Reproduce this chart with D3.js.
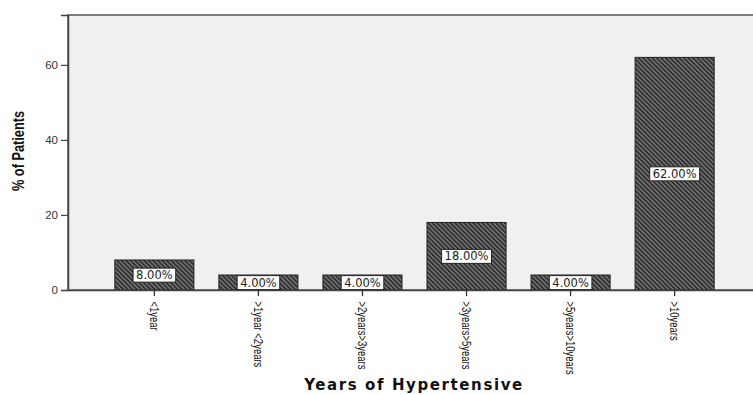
<!DOCTYPE html>
<html>
<head>
<meta charset="utf-8">
<script src="https://cdn.jsdelivr.net/npm/d3@7"></script>
<style>
  body { margin: 0; background: #fff; }
  svg { display: block; }
</style>
</head>
<body>
<svg id="chart" width="753" height="395"></svg>
<script>
// data
var categories = ['<1year', '>1year <2years', '>2years>3years', '>3years>5years', '>5years>10years', '>10years'];
var values = [8, 4, 4, 18, 4, 62];
var yTicks = [0, 20, 40, 60];

var svg = d3.select('#chart');
var plot = {l: 68, t: 15, r: 761, b: 290};

var xScale = d3.scaleBand()
    .domain(categories)
    .range([plot.l, plot.r])
    .paddingInner(0.24)
    .paddingOuter(0.45);
var yScale = d3.scaleLinear().domain([0, 73.3]).range([plot.b, plot.t]);

// hatch pattern for the bars
var defs = svg.append('defs');
var pat = defs.append('pattern')
    .attr('id', 'hatch')
    .attr('patternUnits', 'userSpaceOnUse')
    .attr('width', 3.2).attr('height', 3.2)
    .attr('patternTransform', 'rotate(45)');
pat.append('rect').attr('width', 3.2).attr('height', 3.2).attr('fill', '#2f2f2f');
pat.append('rect').attr('width', 3.2).attr('height', 1.3).attr('fill', '#7e7e7e');

// plot background
svg.append('rect')
    .attr('x', plot.l).attr('y', plot.t)
    .attr('width', plot.r - plot.l).attr('height', plot.b - plot.t)
    .attr('fill', '#f0f0f0')
    .attr('stroke', '#555').attr('stroke-width', 1.5);

// bars
svg.selectAll('.bar')
    .data(values).enter()
    .append('rect')
    .attr('class', 'bar')
    .attr('x', (d, i) => xScale(categories[i]))
    .attr('y', d => yScale(d))
    .attr('width', xScale.bandwidth())
    .attr('height', d => yScale(0) - yScale(d))
    .attr('fill', 'url(#hatch)')
    .attr('stroke', '#222').attr('stroke-width', 1);

// y axis
var yAxis = svg.append('g')
    .attr('transform', 'translate(' + plot.l + ',0)')
    .call(d3.axisLeft(yScale).tickValues(yTicks).tickSize(7).tickPadding(3));
yAxis.select('.domain').attr('stroke', '#444').attr('stroke-width', 1.5);
yAxis.selectAll('.tick line').attr('stroke', '#444').attr('stroke-width', 1.2);
yAxis.selectAll('.tick text')
    .attr('fill', '#333')
    .style('font-family', 'Liberation Sans, Arial, sans-serif')
    .style('font-size', '11.5px');

// x axis, labels squeezed to look like a narrow face
var xAxis = svg.append('g')
    .attr('transform', 'translate(0,' + plot.b + ')')
    .call(d3.axisBottom(xScale).tickSize(6).tickSizeOuter(0));
xAxis.select('.domain').attr('stroke', '#444').attr('stroke-width', 1.5);
xAxis.selectAll('.tick line').attr('stroke', '#333').attr('stroke-width', 1.3);
xAxis.selectAll('.tick text')
    .attr('fill', '#111')
    .attr('transform', 'rotate(90) scale(0.76,1)')
    .attr('x', 15).attr('y', 0).attr('dy', '0.35em')
    .attr('text-anchor', 'start')
    .style('font-family', 'Liberation Sans, Arial, sans-serif')
    .style('font-size', '12.5px');

// value labels in the middle of each bar
var labels = svg.selectAll('.vlabel')
    .data(values).enter()
    .append('g')
    .attr('class', 'vlabel')
    .attr('transform', (d, i) => 'translate(' + (xScale(categories[i]) + xScale.bandwidth() / 2) + ',' + yScale(d / 2) + ')');
labels.append('text')
    .attr('text-anchor', 'middle')
    .attr('dy', '0.36em')
    .style('font-family', 'DejaVu Sans, sans-serif')
    .style('font-size', '11.5px')
    .attr('fill', '#222')
    .text(d => d.toFixed(2) + '%');
labels.each(function() {
    var g = d3.select(this);
    var bb = g.select('text').node().getBBox();
    g.insert('rect', 'text')
        .attr('x', bb.x - 3).attr('y', bb.y)
        .attr('width', bb.width + 6).attr('height', bb.height)
        .attr('fill', '#fff').attr('stroke', '#222').attr('stroke-width', 1);
});

// axis titles
svg.append('text')
    .attr('transform', 'translate(24,151) rotate(-90) scale(0.75,1)')
    .attr('text-anchor', 'middle')
    .style('font-family', 'Liberation Sans, Arial, sans-serif')
    .style('font-size', '17px').style('font-weight', 'bold')
    .attr('fill', '#111')
    .text('% of Patients');

svg.append('text')
    .attr('x', 414).attr('y', 390)
    .attr('text-anchor', 'middle')
    .style('font-family', 'DejaVu Sans, sans-serif')
    .style('font-size', '15px').style('font-weight', 'bold')
    .style('letter-spacing', '1.6px')
    .attr('fill', '#111')
    .text('Years of Hypertensive');
</script>
</body>
</html>
